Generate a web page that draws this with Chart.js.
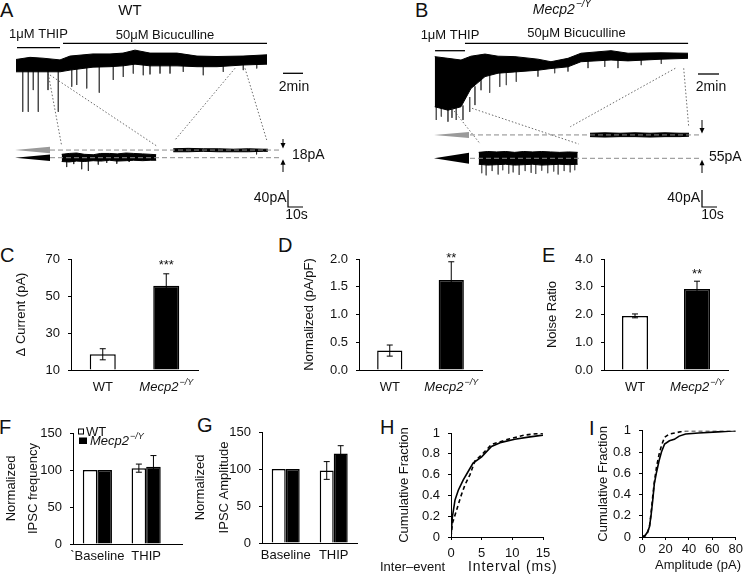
<!DOCTYPE html>
<html lang="en">
<head>
<meta charset="utf-8">
<title>THIP / bicuculline tonic current figure</title>
<script src="https://cdn.jsdelivr.net/npm/chart.js@4.4.1/dist/chart.umd.min.js"></script>
<style>
  html, body { margin:0; padding:0; background:#fff; }
  body { position:relative; width:745px; height:575px; overflow:hidden; font-family:"Liberation Sans", Arial, sans-serif; }
  canvas { position:absolute; }
  .lt { position:absolute; font-size:20px; line-height:20px; color:#111; }
</style>
</head>
<body>
<div class="lt" style="left:0px;top:0px">A</div>
<div class="lt" style="left:415px;top:0px">B</div>
<div class="lt" style="left:0px;top:245px">C</div>
<div class="lt" style="left:278px;top:235px">D</div>
<div class="lt" style="left:542px;top:245px">E</div>
<div class="lt" style="left:-1px;top:417px">F</div>
<div class="lt" style="left:197px;top:415px">G</div>
<div class="lt" style="left:380px;top:417px">H</div>
<div class="lt" style="left:589px;top:418px">I</div>
<canvas id="cA"></canvas>
<canvas id="cB"></canvas>
<canvas id="cC"></canvas>
<canvas id="cD"></canvas>
<canvas id="cE"></canvas>
<canvas id="cF"></canvas>
<canvas id="cG"></canvas>
<canvas id="cH"></canvas>
<canvas id="cI"></canvas>
<script>
// ================= DATA =================
// Panel A (WT): slow record, minutes vs pA (upper / lower edge of the noisy trace)
const wtTraceTime  = [0, 1.4, 2.7, 4.4, 5.4, 7.7, 9.4, 10.7, 11.9, 13.4, 16.1, 18.1, 20.1, 22.7, 25.1];
const wtTraceUpper = [13, 18, 16, 12, 21, 26, 26, 28, 35, 28, 28, 21, 20, 21, 24];
const wtTraceLower = [-16, -16, -16, -16, -12, -5, -4, -2, 2, -2, -2, -4, -4, 0, 2];
// IPSC events on the slow record (time, band edge, peak)
const wtEventTime = [0.67, 1.23, 1.73, 2.23, 3.2, 4.23, 5.57, 6.07, 7.07, 8.33, 9.73, 10.73, 11.73, 12.73, 13.4, 14.4, 15.4, 16.73, 18.73, 20.73, 22.73, 24.07];
const wtEventFrom = [-13, -13, -13, -13, -13, -13, -9, -8, -4, -2, -1, 0, 4, 1, 0, 0, 0, 0, -1, -1, 2, 3];
const wtEventPeak = [-110, -110, -59, -110, -59, -110, -51, -47, -55, -65, -35, -28, -20, -24, -22, -20, -20, -16, -24, -16, -12, -8];
const wtDrugLabels = ['1\u03bcM THIP', '50\u03bcM Bicuculline'];
const wtDrugStart  = [0.1, 4.7];
const wtDrugEnd    = [4.4, 25.1];
// Panel A expanded segments (seconds vs pA)
const wtSeg1Time  = [0, 5, 10, 15, 21, 26, 32, 37, 43, 48, 54, 59, 63];
const wtSeg1Upper = [8, 10, 11, 8, 7, 10, 10, 9, 11, 10, 9, 8, 7];
const wtSeg1Lower = [-9, -10, -8, -9, -7, -8, -6, -8, -7, -6, -7, -6, -6];
const wtSeg1EventTime = [3.3, 8, 13.3, 17.8, 24.4, 30, 36.7, 45];
const wtSeg1EventPeak = [-22, -15, -27, -31, -16, -12, -14, -10];
const wtSeg2Time  = [0, 10, 20, 30, 40, 50, 60, 63];
const wtSeg2Upper = [21, 22, 21, 21, 20, 21, 20, 20];
const wtSeg2Lower = [14, 14, 15, 14, 14, 14, 15, 15];
const wtSeg2EventTime = [55.5];
const wtSeg2EventPeak = [8];
const wtShift = 18;

// Panel B (Mecp2-/Y)
const mecpTraceTime  = [0.07, 1.33, 2.57, 3.52, 4.86, 6.10, 7.71, 9.90, 11.14, 12.76, 14.0, 16.86, 18.48, 21.62, 24.19];
const mecpTraceUpper = [55, 51, 47, 56, 61, 56, 55, 49, 43, 51, 63, 69, 63, 64, 63];
const mecpTraceLower = [-63, -71, -63, -20, 8, 16, 19, 23, 27, 31, 43, 47, 45, 49, 51];
const mecpEventTime = [0.22, 0.70, 1.33, 1.71, 2.12, 2.76, 3.40, 3.90, 4.48, 5.30, 6.26, 6.89, 7.84, 9.90, 11.49, 12.76, 14.67, 16.26, 17.52, 19.74, 21.65];
const mecpEventFrom = [-60, -65, -68, -66, -63, -60, -40, -15, 10, 15, 18, 19, 21, 25, 30, 33, 45, 49, 47, 50, 51];
const mecpEventPeak = [-94, -86, -98, -89, -94, -94, -75, -59, -24, -30, -16, -12, -4, 8, 16, 20, 28, 31, 28, 35, 38];
const mecpDrugLabels = ['1\u03bcM THIP', '50\u03bcM Bicuculline'];
const mecpDrugStart  = [0.1, 2.95];
const mecpDrugEnd    = [2.95, 24.2];
const mecpSeg1Time  = [0, 6, 12, 18, 24, 30, 36, 42, 48, 54, 60, 66];
const mecpSeg1Upper = [14, 16, 15, 16, 14, 16, 15, 16, 15, 14, 15, 14];
const mecpSeg1Lower = [-14, -16, -15, -14, -16, -15, -14, -16, -15, -14, -15, -14];
const mecpSeg1EventTime = [2, 5, 9, 13, 16, 20, 23, 27, 31, 35, 38, 42, 46, 50, 53, 57, 61, 64];
const mecpSeg1EventPeak = [-35, -40, -30, -38, -28, -36, -33, -39, -30, -34, -37, -29, -35, -31, -38, -30, -33, -28];
const mecpSeg2Time  = [0, 10, 20, 30, 40, 50, 60, 66];
const mecpSeg2Upper = [59, 60, 59, 60, 59, 60, 59, 59];
const mecpSeg2Lower = [51, 50, 51, 51, 50, 51, 51, 52];
const mecpSeg2EventTime = [];
const mecpSeg2EventPeak = [];
const mecpShift = 55;

// calibration bars
const scaleMinutes = 2, scalePA = 40, scaleSeconds = 10;

// Panels C-E
const genotypes = ['WT', 'Mecp2\u2212/Y'];
const deltaCurrent = [18.5, 55.5], deltaCurrentSem = [3, 6.5], deltaCurrentSig = ['', '***'];
const normCurrent  = [0.35, 1.62], normCurrentSem = [0.1, 0.33], normCurrentSig = ['', '**'];
const noiseRatio   = [1.95, 2.92], noiseRatioSem = [0.07, 0.28], noiseRatioSig = ['', '**'];
const yTicksC = [10, 70, 20], yTicksD = [0, 2, 0.5], yTicksE = [0, 4, 1];

// Panels F-G
const conditionsF = ['`Baseline', 'THIP'];
const conditionsG = ['Baseline', 'THIP'];
const freqWT = [100, 102.5], freqWTSem = [0, 5.5];
const freqMecp = [100, 104.5], freqMecpSem = [0, 15];
const ampWT = [100, 98], ampWTSem = [0, 12];
const ampMecp = [100, 121], ampMecpSem = [0, 10.5];

// Panels H-I cumulative distributions
const ieiSolidX  = [0, 0.22, 0.65, 1.19, 2.0, 2.8, 3.6, 5.0, 6.6, 8.2, 10.4, 12.6, 15];
const ieiSolidY  = [0, 0.19, 0.355, 0.45, 0.55, 0.63, 0.71, 0.77, 0.87, 0.91, 0.94, 0.96, 0.98];
const ieiDashedX = [0, 0.22, 0.92, 1.6, 2.27, 3.1, 3.9, 5.0, 6.6, 9.3, 12.0, 15];
const ieiDashedY = [0, 0.13, 0.26, 0.39, 0.5, 0.6, 0.73, 0.79, 0.89, 0.94, 0.98, 1.0];
const ampSolidX  = [0, 2.8, 4.7, 6.3, 7.7, 9.1, 10.5, 12.4, 14.6, 16.6, 19.3, 23.4, 27.6, 31.7, 37.2, 48.3, 64.8, 80];
const ampSolidY  = [0, 0.016, 0.047, 0.094, 0.2, 0.34, 0.5, 0.61, 0.72, 0.8, 0.875, 0.906, 0.92, 0.95, 0.97, 0.98, 0.99, 1.0];
const ampDashedX = [0, 2.8, 4.7, 6.3, 7.7, 9.1, 10.5, 12.4, 14.6, 16.6, 19.3, 23.4, 30.3, 37.2, 80];
const ampDashedY = [0, 0.01, 0.04, 0.09, 0.22, 0.375, 0.515, 0.66, 0.78, 0.86, 0.94, 0.97, 0.985, 1.0, 1.0];

// ================= SETUP =================
const FONT = '"Liberation Sans", Arial, Helvetica, sans-serif';
Chart.defaults.font.family = FONT;
Chart.defaults.font.size = 13;
Chart.defaults.color = '#111';
Chart.defaults.animation = false;
Chart.defaults.responsive = false;
Chart.defaults.maintainAspectRatio = false;
Chart.defaults.devicePixelRatio = 1;
Chart.defaults.events = [];
Chart.defaults.plugins.legend.display = false;
Chart.defaults.plugins.tooltip.enabled = false;

function place(id, r) {
  const c = document.getElementById(id);
  c.width = r.w; c.height = r.h;
  c.style.left = r.x + 'px'; c.style.top = r.y + 'px';
  c.style.width = r.w + 'px'; c.style.height = r.h + 'px';
  return c;
}
function pxAxis(originPx, pxPerUnit, lengthPx, vertical) {
  if (!vertical) { const min = -originPx / pxPerUnit; return { min, max: min + lengthPx / pxPerUnit }; }
  const max = originPx / pxPerUnit; return { min: max - lengthPx / pxPerUnit, max };
}
function drawMecp(ctx, x, y, size, align) {
  ctx.save();
  const sup = Math.round(size * 0.68);
  ctx.font = `italic ${size}px ${FONT}`;
  const w1 = ctx.measureText('Mecp2').width;
  ctx.font = `italic ${sup}px ${FONT}`;
  const w2 = ctx.measureText('\u2212/Y').width;
  const tot = w1 + w2 + 1;
  const x0 = align === 'center' ? x - tot / 2 : (align === 'right' ? x - tot : x);
  ctx.textAlign = 'left'; ctx.textBaseline = 'middle'; ctx.fillStyle = '#111';
  ctx.font = `italic ${size}px ${FONT}`; ctx.fillText('Mecp2', x0, y);
  ctx.font = `italic ${sup}px ${FONT}`; ctx.fillText('\u2212/Y', x0 + w1 + 1, y - size * 0.38);
  ctx.restore();
}
const plainNum = v => String(parseFloat(Number(v).toFixed(2)));

// error bars + significance marks drawn from the dataset arrays
const errPlugin = {
  id: 'errbars',
  afterDatasetsDraw(chart) {
    const ctx = chart.ctx;
    chart.data.datasets.forEach((ds, di) => {
      if (!ds.errors) return;
      const meta = chart.getDatasetMeta(di);
      const ys = chart.scales[meta.yAxisID];
      meta.data.forEach((el, i) => {
        const raw = ds.data[i];
        const v = typeof raw === 'object' ? raw.y : raw;
        const e = ds.errors[i];
        const x = el.x;
        const yTop = ys.getPixelForValue(v + e), yBot = ys.getPixelForValue(v - e);
        if (e > 0) {
          ctx.save();
          ctx.strokeStyle = '#000'; ctx.lineWidth = 1;
          ctx.beginPath();
          ctx.moveTo(x, yTop); ctx.lineTo(x, yBot);
          ctx.moveTo(x - 3, yTop); ctx.lineTo(x + 3, yTop);
          ctx.moveTo(x - 3, yBot); ctx.lineTo(x + 3, yBot);
          ctx.stroke(); ctx.restore();
        }
        if (ds.stars && ds.stars[i]) {
          ctx.save();
          ctx.fillStyle = '#111'; ctx.font = `13px ${FONT}`;
          ctx.textAlign = 'center'; ctx.textBaseline = 'alphabetic';
          ctx.fillText(ds.stars[i], x, yTop - ds.starGap + 7.4);
          ctx.restore();
        }
      });
    });
  }
};

// ================= TRACE PANELS (A, B) =================
function lineDS(xs, ys, xAxisID, yAxisID, extra) {
  return Object.assign({
    data: xs.map((x, i) => ({ x, y: ys[i] })), xAxisID, yAxisID,
    borderColor: '#000', borderWidth: 1, pointRadius: 0, tension: 0, fill: false
  }, extra || {});
}
function spikeDS(ts, from, peaks, xAxisID, yAxisID, color) {
  const d = [];
  ts.forEach((t, i) => {
    const f = Array.isArray(from) ? from[i] : from;
    d.push({ x: t, y: f }, { x: t, y: peaks[i] }, { x: t, y: null });
  });
  return { data: d, xAxisID, yAxisID, borderColor: color, borderWidth: 1, pointRadius: 0, spanGaps: false, fill: false, tension: 0 };
}

function tracePanel(id, rect, D, L) {
  const cv = place(id, rect);
  const pxPerPA = 17 / 40;
  const datasets = [
    lineDS(D.time, D.upper, 'x', 'y', { fill: '+1', backgroundColor: '#000' }),
    lineDS(D.time, D.lower, 'x', 'y'),
    lineDS(D.seg1Time, D.seg1Upper, 'xs1', 'yz', { fill: '+1', backgroundColor: '#000' }),
    lineDS(D.seg1Time, D.seg1Lower, 'xs1', 'yz'),
    lineDS(D.seg2Time, D.seg2Upper, 'xs2', 'yz', { fill: '+1', backgroundColor: '#000' }),
    lineDS(D.seg2Time, D.seg2Lower, 'xs2', 'yz'),
    spikeDS(D.evTime, D.evFrom, D.evPeak, 'x', 'y', L.spikeColor),
    spikeDS(D.seg1EvTime, 0, D.seg1EvPeak, 'xs1', 'yz', L.spikeColor2),
    spikeDS(D.seg2EvTime, D.shift, D.seg2EvPeak, 'xs2', 'yz', L.spikeColor2)
  ];
  const hidden = (axis, r) => Object.assign({ type: 'linear', display: false, axis }, r);
  const ann = {
    id: 'traceAnn',
    afterDraw(chart) {
      const ctx = chart.ctx, S = chart.scales;
      ctx.save();
      ctx.textBaseline = 'middle';
      // header
      if (L.mecpHeader) drawMecp(ctx, L.header[0], L.header[1], 14, 'center');
      else { ctx.fillStyle = '#111'; ctx.font = `15px ${FONT}`; ctx.textAlign = 'center'; ctx.fillText(D.header, L.header[0], L.header[1]); }
      // drug application bars
      D.drugLabels.forEach((lab, i) => {
        const x1 = S.x.getPixelForValue(D.drugStart[i]), x2 = S.x.getPixelForValue(D.drugEnd[i]);
        ctx.strokeStyle = '#000'; ctx.lineWidth = 1.3; ctx.setLineDash([]);
        ctx.beginPath(); ctx.moveTo(x1, L.drugBarY[i]); ctx.lineTo(x2, L.drugBarY[i]); ctx.stroke();
        ctx.fillStyle = '#111'; ctx.font = `13px ${FONT}`; ctx.textAlign = 'center';
        ctx.fillText(lab, (x1 + x2) / 2, L.drugTextY[i]);
      });
      // time bar for slow record
      const minLen = S.x.getPixelForValue(scaleMinutes) - S.x.getPixelForValue(0);
      ctx.lineWidth = 1.3;
      ctx.beginPath(); ctx.moveTo(L.minBar[0], L.minBar[1]); ctx.lineTo(L.minBar[0] + minLen, L.minBar[1]); ctx.stroke();
      ctx.font = `14px ${FONT}`; ctx.textAlign = 'center';
      ctx.fillText(scaleMinutes + 'min', L.minBar[0] + minLen / 2 + L.minTextDx, L.minBar[1] + 13.5);
      // dotted connectors
      ctx.strokeStyle = '#444'; ctx.lineWidth = 0.8; ctx.setLineDash([1.5, 2]);
      L.dotted.forEach(([x1, y1, x2, y2]) => { ctx.beginPath(); ctx.moveTo(x1, y1); ctx.lineTo(x2, y2); ctx.stroke(); });
      // baseline dashed lines
      const yLow = S.yz.getPixelForValue(0), yHigh = S.yz.getPixelForValue(D.shift);
      ctx.strokeStyle = '#8a8a8a'; ctx.lineWidth = 1; ctx.setLineDash([5, 3]);
      [yLow, yHigh].forEach(y => { ctx.beginPath(); ctx.moveTo(L.dashX[0], y); ctx.lineTo(L.dashX[1], y); ctx.stroke(); });
      ctx.setLineDash([]);
      // all-points wedges
      const wedge = (yc, h, color) => {
        ctx.fillStyle = color; ctx.beginPath();
        ctx.moveTo(L.wedgeX[0], yc); ctx.lineTo(L.wedgeX[1], yc - h); ctx.lineTo(L.wedgeX[1], yc + h);
        ctx.closePath(); ctx.fill();
      };
      wedge(yHigh, L.wedgeH[0], '#9a9a9a');
      wedge(yLow, L.wedgeH[1], '#000');
      // arrows
      const arrow = (x, yFrom, yTo) => {
        const dir = Math.sign(yTo - yFrom);
        ctx.strokeStyle = '#000'; ctx.fillStyle = '#000'; ctx.lineWidth = 1;
        ctx.beginPath(); ctx.moveTo(x, yFrom); ctx.lineTo(x, yTo - dir * 4); ctx.stroke();
        ctx.beginPath(); ctx.moveTo(x, yTo); ctx.lineTo(x - 2.5, yTo - dir * 5.5); ctx.lineTo(x + 2.5, yTo - dir * 5.5);
        ctx.closePath(); ctx.fill();
      };
      arrow(L.arrowX, L.arrowTop, yHigh - 1.5);
      arrow(L.arrowX, L.arrowBottom, yLow + 1.5);
      ctx.fillStyle = '#111'; ctx.font = `14px ${FONT}`; ctx.textAlign = 'left';
      ctx.fillText(D.shift + 'pA', L.shiftLabel[0], L.shiftLabel[1]);
      // calibration 40 pA / 10 s
      const paLen = S.yz.getPixelForValue(0) - S.yz.getPixelForValue(scalePA);
      const sLen = S.xs1.getPixelForValue(scaleSeconds) - S.xs1.getPixelForValue(0);
      const [bx, by] = L.calBar;
      ctx.strokeStyle = '#000'; ctx.lineWidth = 1.2;
      ctx.beginPath(); ctx.moveTo(bx, by - paLen); ctx.lineTo(bx, by); ctx.lineTo(bx + sLen, by); ctx.stroke();
      ctx.textAlign = 'right'; ctx.fillText(scalePA + 'pA', bx - L.paTextGap, by - paLen / 2);
      ctx.textAlign = 'center'; ctx.fillText(scaleSeconds + 's', bx + sLen / 2 + L.secTextDx, by + 8.5);
      ctx.restore();
    }
  };
  return new Chart(cv, {
    type: 'line',
    data: { datasets },
    options: {
      layout: { padding: 0 },
      scales: {
        x: hidden('x', pxAxis(L.t0, L.pxPerMin, rect.w)),
        y: hidden('y', pxAxis(L.y0, pxPerPA, rect.h, true)),
        xs1: hidden('x', pxAxis(L.seg1x, 1.5, rect.w)),
        xs2: hidden('x', pxAxis(L.seg2x, 1.5, rect.w)),
        yz: hidden('y', pxAxis(L.zoom0, pxPerPA, rect.h, true))
      }
    },
    plugins: [ann]
  });
}

tracePanel('cA', { x: 0, y: 0, w: 372, h: 220 }, {
  header: 'WT',
  time: wtTraceTime, upper: wtTraceUpper, lower: wtTraceLower,
  evTime: wtEventTime, evFrom: wtEventFrom, evPeak: wtEventPeak,
  drugLabels: wtDrugLabels, drugStart: wtDrugStart, drugEnd: wtDrugEnd,
  seg1Time: wtSeg1Time, seg1Upper: wtSeg1Upper, seg1Lower: wtSeg1Lower, seg1EvTime: wtSeg1EventTime, seg1EvPeak: wtSeg1EventPeak,
  seg2Time: wtSeg2Time, seg2Upper: wtSeg2Upper, seg2Lower: wtSeg2Lower, seg2EvTime: wtSeg2EventTime, seg2EvPeak: wtSeg2EventPeak,
  shift: wtShift
}, {
  t0: 16, pxPerMin: 10, y0: 65, seg1x: 61.7, seg2x: 173.3, zoom0: 157.7,
  spikeColor: '#4a4a4a', spikeColor2: '#333',
  header: [130, 11], mecpHeader: false,
  drugBarY: [47.7, 43.3], drugTextY: [34, 35],
  minBar: [283, 73.3], minTextDx: 1,
  dotted: [[48.3, 74, 61.7, 146], [50, 75, 156.7, 146], [235, 68.3, 175, 140], [245, 68.3, 266.7, 140]],
  dashX: [50, 282], wedgeX: [15, 50], wedgeH: [3.3, 3.3],
  arrowX: 283, arrowTop: 139, arrowBottom: 172, shiftLabel: [292, 155],
  calBar: [288, 207], paTextGap: 1.5, secTextDx: 1
});

tracePanel('cB', { x: 372, y: 0, w: 373, h: 220 }, {
  header: 'Mecp2',
  time: mecpTraceTime, upper: mecpTraceUpper, lower: mecpTraceLower,
  evTime: mecpEventTime, evFrom: mecpEventFrom, evPeak: mecpEventPeak,
  drugLabels: mecpDrugLabels, drugStart: mecpDrugStart, drugEnd: mecpDrugEnd,
  seg1Time: mecpSeg1Time, seg1Upper: mecpSeg1Upper, seg1Lower: mecpSeg1Lower, seg1EvTime: mecpSeg1EventTime, seg1EvPeak: mecpSeg1EventPeak,
  seg2Time: mecpSeg2Time, seg2Upper: mecpSeg2Upper, seg2Lower: mecpSeg2Lower, seg2EvTime: mecpSeg2EventTime, seg2EvPeak: mecpSeg2EventPeak,
  shift: mecpShift
}, {
  t0: 62, pxPerMin: 10.5, y0: 80, seg1x: 106.7, seg2x: 218, zoom0: 158.3,
  spikeColor: '#555', spikeColor2: '#666',
  header: [190, 10], mecpHeader: true,
  drugBarY: [50.7, 43.3], drugTextY: [35, 33],
  minBar: [326, 74], minTextDx: 2.5,
  dotted: [[80, 108.3, 108.3, 144], [100, 108.3, 206.7, 144], [303.3, 68.3, 198.3, 126.7], [311.7, 68.3, 316.7, 126.7]],
  dashX: [98, 328], wedgeX: [62, 97], wedgeH: [3, 5.5],
  arrowX: 330, arrowTop: 120, arrowBottom: 173, shiftLabel: [337, 157],
  calBar: [330, 207], paTextGap: 2, secTextDx: 3
});

// ================= BAR PANELS (C, D, E) =================
function genotypeLabels(rect, yCenter) {
  return {
    id: 'genoLabels',
    afterDraw(chart) {
      const ctx = chart.ctx, x = chart.scales.x;
      const y = yCenter - rect.y;
      ctx.save();
      ctx.fillStyle = '#111'; ctx.font = `13px ${FONT}`; ctx.textAlign = 'center'; ctx.textBaseline = 'middle';
      ctx.fillText(genotypes[0], x.getPixelForValue(0), y);
      drawMecp(ctx, x.getPixelForValue(1), y, 13, 'center');
      ctx.restore();
    }
  };
}
function barPanel(id, rect, area, values, errors, stars, starGap, ticks, decimals, title, barPct) {
  const cv = place(id, rect);
  return new Chart(cv, {
    type: 'bar',
    data: {
      labels: genotypes,
      datasets: [{
        data: values, errors, stars, starGap,
        backgroundColor: ['#fff', '#000'], borderColor: '#000', borderWidth: 1.5,
        barPercentage: barPct, categoryPercentage: 1, base: ticks[0]
      }]
    },
    options: {
      layout: { padding: { left: 0, top: area.t - rect.y, right: rect.x + rect.w - area.r, bottom: 0 } },
      scales: {
        x: {
          grid: { display: false, drawTicks: false }, border: { display: true, color: '#000', width: 1 },
          ticks: { display: false },
          afterFit(s) { s.height = rect.y + rect.h - area.b; }
        },
        y: {
          min: ticks[0], max: ticks[1],
          ticks: { stepSize: ticks[2], padding: 8, color: '#111', font: { size: 13 }, callback: v => Number(v).toFixed(decimals) },
          grid: { display: true, drawOnChartArea: false, drawTicks: true, tickLength: 3, color: '#000' },
          border: { display: true, color: '#000', width: 1 },
          title: { display: true, text: title, color: '#111', padding: { top: 0, bottom: 0 }, font: { size: 13 } },
          afterFit(s) { s.width = area.l - rect.x; }
        }
      }
    },
    plugins: [errPlugin, genotypeLabels(rect, 387)]
  });
}
barPanel('cC', { x: 14, y: 240, w: 192, h: 165 }, { l: 71, t: 259, r: 198, b: 370 },
  deltaCurrent, deltaCurrentSem, deltaCurrentSig, 12, yTicksC, 0, '\u0394 Current (pA)', 0.41);
barPanel('cD', { x: 302, y: 240, w: 186, h: 165 }, { l: 359, t: 259, r: 482, b: 370 },
  normCurrent, normCurrentSem, normCurrentSig, 7, yTicksD, 1, 'Normalized (pA/pF)', 0.41);
barPanel('cE', { x: 545, y: 240, w: 200, h: 165 }, { l: 604, t: 259, r: 728, b: 370 },
  noiseRatio, noiseRatioSem, noiseRatioSig, 10.5, yTicksE, 1, 'Noise Ratio', 0.42);

// ================= GROUPED PANELS (F, G) =================
function groupedPanel(id, rect, area, cats, wt, wtSem, mecp, mecpSem, titleLines, titleLH, xr, catPct, extraPlugins) {
  const cv = place(id, rect);
  const mk = (vals) => vals.map((v, i) => ({ x: i + 1, y: v }));
  return new Chart(cv, {
    type: 'bar',
    data: {
      datasets: [
        { data: mk(wt), errors: wtSem, backgroundColor: '#fff', borderColor: '#000', borderWidth: 1.5, barPercentage: 1, categoryPercentage: catPct },
        { data: mk(mecp), errors: mecpSem, backgroundColor: '#000', borderColor: '#000', borderWidth: 1.5, barPercentage: 1, categoryPercentage: catPct }
      ]
    },
    options: {
      layout: { padding: { left: 0, top: area.t - rect.y, right: rect.x + rect.w - area.r, bottom: 0 } },
      scales: {
        x: {
          type: 'linear', min: xr[0], max: xr[1], offset: false,
          afterBuildTicks(s) { s.ticks = cats.map((c, i) => ({ value: i + 1 })); },
          ticks: { callback: v => cats[v - 1], padding: 5, autoSkip: false, maxRotation: 0, color: '#111', font: { size: 13 } },
          grid: { display: false, drawTicks: false, offset: false }, border: { display: true, color: '#000', width: 1 },
          afterFit(s) { s.height = rect.y + rect.h - area.b; }
        },
        y: {
          min: 0, max: 150,
          ticks: { stepSize: 50, padding: 8, color: '#111', font: { size: 13 } },
          grid: { display: true, drawOnChartArea: false, drawTicks: true, tickLength: 3, color: '#000' },
          border: { display: true, color: '#000', width: 1 },
          title: { display: true, text: titleLines, color: '#111', padding: { top: 0, bottom: 0 }, font: { size: 13, lineHeight: titleLH + 'px' } },
          afterFit(s) { s.width = area.l - rect.x; }
        }
      }
    },
    plugins: [errPlugin].concat(extraPlugins || [])
  });
}
const rectF = { x: 0, y: 415, w: 190, h: 160 };
const legendF = {
  id: 'legendF',
  afterDraw(chart) {
    const ctx = chart.ctx, ox = rectF.x, oy = rectF.y;
    ctx.save();
    ctx.fillStyle = '#fff'; ctx.strokeStyle = '#000'; ctx.lineWidth = 1;
    ctx.fillRect(78 - ox, 428.5 - oy, 6, 6); ctx.strokeRect(78.5 - ox, 429 - oy, 5, 5);
    ctx.fillStyle = '#000'; ctx.fillRect(79 - ox, 437.5 - oy, 8, 6.5);
    ctx.fillStyle = '#111'; ctx.font = `13px ${FONT}`; ctx.textAlign = 'left'; ctx.textBaseline = 'middle';
    ctx.fillText('WT', 86 - ox, 432 - oy);
    drawMecp(ctx, 90 - ox, 441.5 - oy, 13, 'left');
    ctx.restore();
  }
};
groupedPanel('cF', rectF, { l: 73, t: 433, r: 182, b: 544 }, conditionsF,
  freqWT, freqWTSem, freqMecp, freqMecpSem, ['Normalized', 'IPSC frequency'], 22, [0.5, 2.735], 0.598, [legendF]);
groupedPanel('cG', { x: 188, y: 415, w: 180, h: 160 }, { l: 262, t: 432, r: 357, b: 543 }, conditionsG,
  ampWT, ampWTSem, ampMecp, ampMecpSem, ['Normalized', 'IPSC Amplitude'], 24, [0.506, 2.485], 0.583);

// ================= CUMULATIVE PANELS (H, I) =================
function cdfPanel(id, rect, area, xMax, xStep, solidX, solidY, dashedX, dashedY, titlePad, tickPad, xTitleParts) {
  const cv = place(id, rect);
  const mk = (xs, ys) => xs.map((x, i) => ({ x, y: ys[i] }));
  const xTitlePlugin = {
    id: 'xTitle',
    afterDraw(chart) {
      const ctx = chart.ctx;
      ctx.save();
      ctx.fillStyle = '#111'; ctx.textBaseline = 'middle'; ctx.textAlign = 'left';
      xTitleParts.forEach(p => {
        ctx.save();
        ctx.font = `${p.size || 13}px ${FONT}`;
        if (p.spacing && 'letterSpacing' in ctx) ctx.letterSpacing = p.spacing + 'px';
        const w = ctx.measureText(p.text).width;
        const x0 = p.align === 'center' ? p.x - w / 2 : (p.align === 'right' ? p.x - w : p.x);
        ctx.fillText(p.text, x0 - rect.x, p.y - rect.y);
        ctx.restore();
      });
      ctx.restore();
    }
  };
  return new Chart(cv, {
    type: 'line',
    data: {
      datasets: [
        { data: mk(solidX, solidY), borderColor: '#000', borderWidth: 1.6, pointRadius: 0, tension: 0, fill: false },
        { data: mk(dashedX, dashedY), borderColor: '#000', borderWidth: 1.6, borderDash: [4, 3], pointRadius: 0, tension: 0, fill: false }
      ]
    },
    options: {
      layout: { padding: { left: 0, top: area.t - rect.y, right: rect.x + rect.w - area.r, bottom: 0 } },
      scales: {
        x: {
          type: 'linear', min: 0, max: xMax,
          ticks: { stepSize: xStep, padding: tickPad, color: '#111', font: { size: 13 }, maxRotation: 0, callback: plainNum },
          grid: { display: true, drawOnChartArea: false, drawTicks: true, tickLength: 3, color: '#000' },
          border: { display: true, color: '#000', width: 1 },
          afterFit(s) { s.height = rect.y + rect.h - area.b; }
        },
        y: {
          type: 'linear', min: 0, max: 1,
          ticks: { stepSize: 0.2, padding: 8, color: '#111', font: { size: 13 }, callback: plainNum },
          grid: { display: true, drawOnChartArea: false, drawTicks: true, tickLength: 3, color: '#000' },
          border: { display: true, color: '#000', width: 1 },
          title: { display: true, text: 'Cumulative Fraction', color: '#111', padding: { top: titlePad, bottom: 0 }, font: { size: 13 } },
          afterFit(s) { s.width = area.l - rect.x; }
        }
      }
    },
    plugins: [xTitlePlugin]
  });
}
cdfPanel('cH', { x: 378, y: 415, w: 195, h: 160 }, { l: 451, t: 433, r: 543, b: 537 }, 15, 5,
  ieiSolidX, ieiSolidY, ieiDashedX, ieiDashedY, 19, 6,
  [{ text: 'Inter\u2013event', x: 380, y: 567, align: 'left', size: 13 },
   { text: 'Interval (ms)', x: 468, y: 567, align: 'left', size: 14, spacing: 0.9 }]);
cdfPanel('cI', { x: 596, y: 415, w: 149, h: 160 }, { l: 642, t: 430, r: 738, b: 537 }, 80, 20,
  ampSolidX, ampSolidY, ampDashedX, ampDashedY, 0, 2,
  [{ text: 'Amplitude (pA)', x: 698, y: 565, align: 'center' }]);
</script>
</body>
</html>
